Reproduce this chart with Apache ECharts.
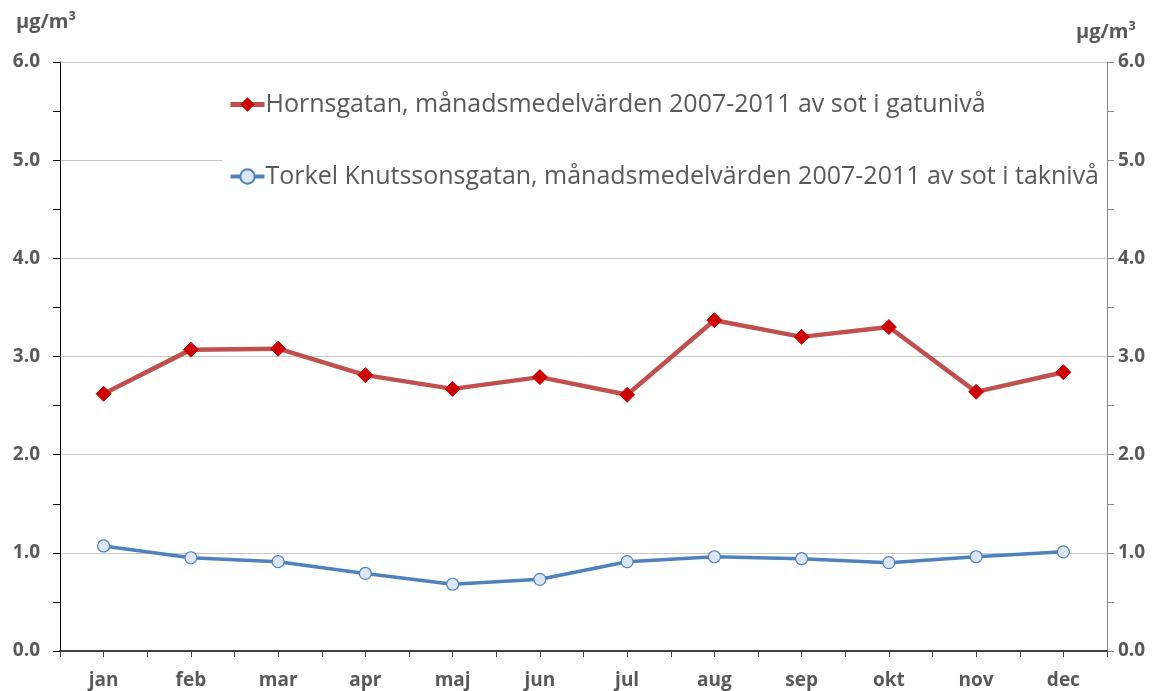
<!DOCTYPE html>
<html>
<head>
<meta charset="utf-8">
<script src="https://cdn.jsdelivr.net/npm/echarts@6/dist/echarts.min.js"></script>
<style>
  html, body { margin: 0; padding: 0; background: #fff; }
  #chart { width: 1160px; height: 691px; }
</style>
</head>
<body>
<div id="chart"></div>
<script>
// månader
const months = ['jan', 'feb', 'mar', 'apr', 'maj', 'jun', 'jul', 'aug', 'sep', 'okt', 'nov', 'dec']
// Hornsgatan, gatunivå
const hornsgatan = [2.62, 3.07, 3.08, 2.81, 2.67, 2.79, 2.61, 3.37, 3.20, 3.30, 2.64, 2.84]
// Torkel Knutssonsgatan, taknivå
const torkel = [1.07, 0.95, 0.91, 0.79, 0.68, 0.73, 0.91, 0.96, 0.94, 0.90, 0.96, 1.01]

const nameRed = 'Hornsgatan, månadsmedelvärden 2007-2011 av sot i gatunivå'
const nameBlue = 'Torkel Knutssonsgatan, månadsmedelvärden 2007-2011 av sot i taknivå'

const font = '"Open Sans", "Noto Sans", sans-serif'
const grey = '#595959'

const chart = echarts.init(document.getElementById('chart'), null, { renderer: 'canvas' })

const yAxisBase = (pos, lineColor) => ({
  type: 'value',
  position: pos,
  min: 0,
  max: 6,
  interval: 1,
  axisLine: { show: true, lineStyle: { color: lineColor, width: 1 } },
  axisTick: { show: true, length: 7, lineStyle: { color: lineColor } },
  minorTick: { show: true, splitNumber: 2, length: 7, lineStyle: { color: lineColor } },
  axisLabel: {
    color: grey,
    fontFamily: font,
    fontWeight: 'bold',
    fontSize: 19,
    margin: pos === 'left' ? 20 : 11,
    formatter: v => v.toFixed(1)
  },
  splitLine: { show: pos === 'left', lineStyle: { color: '#c8c8c8', width: 1 } }
})

const option = {
  backgroundColor: '#fff',
  animation: false,
  grid: { left: 60, right: 53, top: 62, bottom: 40, containLabel: false },
  graphic: [
    { type: 'text', left: 16, top: 12, style: { text: 'μg/m³', font: 'bold 20px ' + font, fill: grey } },
    { type: 'text', left: 1076, top: 22, style: { text: 'μg/m³', font: 'bold 20px ' + font, fill: grey } }
  ],
  legend: {
    orient: 'vertical',
    left: 222,
    top: 86,
    itemGap: 47,
    itemWidth: 34,
    itemHeight: 18,
    backgroundColor: '#fff',
    padding: [6, 8, 6, 6],
    textStyle: { color: grey, fontFamily: font, fontSize: 25, padding: [0, 0, 0, -4] },
    data: [
      { name: nameRed, lineStyle: { width: 5 } },
      { name: nameBlue, lineStyle: { width: 4 } }
    ]
  },
  xAxis: [
    {
      type: 'category',
      data: months,
      boundaryGap: true,
      axisLine: { lineStyle: { color: '#404040', width: 2 } },
      axisTick: { show: true, length: 6, lineStyle: { color: '#404040' } },
      axisLabel: { color: grey, fontFamily: font, fontWeight: 'bold', fontSize: 19, margin: 20 }
    },
    {
      type: 'category',
      data: months,
      position: 'bottom',
      boundaryGap: true,
      axisLine: { show: false },
      axisTick: { show: true, alignWithLabel: true, length: 6, lineStyle: { color: '#404040' } },
      axisLabel: { show: false }
    }
  ],
  yAxis: [yAxisBase('left', '#000'), yAxisBase('right', '#888')],
  series: [
    {
      name: nameRed,
      type: 'line',
      data: hornsgatan,
      symbol: 'diamond',
      symbolSize: 15,
      lineStyle: { color: '#C0504D', width: 4.5 },
      itemStyle: { color: '#CC0000', borderColor: '#CC0000' },
      z: 3
    },
    {
      name: nameBlue,
      type: 'line',
      data: torkel,
      symbol: 'circle',
      symbolSize: 12,
      showAllSymbol: true,
      lineStyle: { color: '#4F81BD', width: 3.5 },
      itemStyle: { color: '#DCE6F2', borderColor: '#4F81BD', borderWidth: 1.2 },
      z: 3
    }
  ]
}

chart.setOption(option)
</script>
</body>
</html>
